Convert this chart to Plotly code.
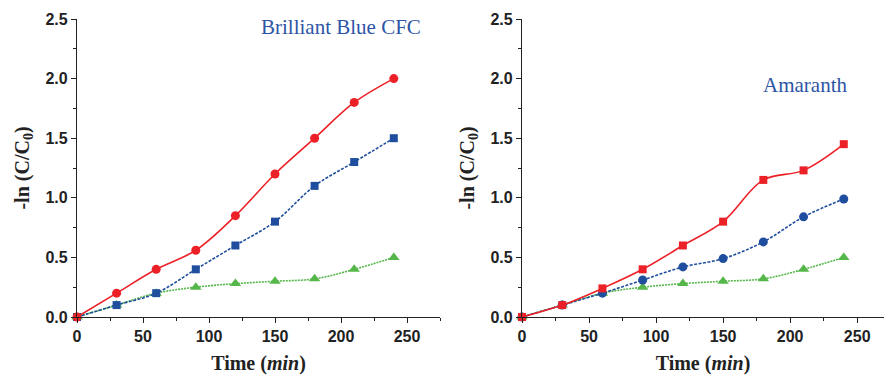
import plotly.graph_objects as go

time = [0, 30, 60, 90, 120, 150, 180, 210, 240]

# Brilliant Blue CFC panel
bb_red = [0, 0.2, 0.4, 0.56, 0.85, 1.2, 1.5, 1.8, 2.0]
bb_blue = [0, 0.1, 0.2, 0.4, 0.6, 0.8, 1.1, 1.3, 1.5]
bb_green = [0, 0.1, 0.2, 0.25, 0.28, 0.3, 0.32, 0.4, 0.5]

# Amaranth panel
am_red = [0, 0.1, 0.24, 0.4, 0.6, 0.8, 1.15, 1.23, 1.45]
am_blue = [0, 0.1, 0.2, 0.31, 0.42, 0.49, 0.63, 0.84, 0.99]
am_green = [0, 0.1, 0.2, 0.25, 0.28, 0.3, 0.32, 0.4, 0.5]

RED = "#ec2127"
BLUE = "#1f4e9f"
GREEN = "#55b74a"
LABEL_BLUE = "#2d55a5"

fig = go.Figure()

def add(x, y, color, symbol, dash, xa, ya, size=8):
    fig.add_trace(go.Scatter(
        x=x, y=y, mode="lines+markers", xaxis=xa, yaxis=ya,
        line=dict(color=color, width=1.6, shape="spline", smoothing=1.0, dash=dash),
        marker=dict(color=color, symbol=symbol, size=size),
        showlegend=False, cliponaxis=False))

add(time, bb_green, GREEN, "triangle-up", "2px,1px", "x", "y", 10)
add(time, bb_blue, BLUE, "square", "3px,1.5px", "x", "y", 8)
add(time, bb_red, RED, "circle", "solid", "x", "y", 9)

add(time, am_green, GREEN, "triangle-up", "2px,1px", "x2", "y2", 10)
add(time, am_blue, BLUE, "circle", "3px,1.5px", "x2", "y2", 9)
add(time, am_red, RED, "square", "solid", "x2", "y2", 8)

tickfont = dict(family="Liberation Sans", size=16, color="#222222", weight="bold")
titlefont = dict(family="Liberation Serif", size=20, color="#222222")

def xaxis(domain, rng):
    return dict(domain=domain, range=rng, showgrid=False, zeroline=False, automargin=False,
                showline=True, linecolor="#222222", linewidth=1.2,
                ticks="outside", ticklen=5, tickcolor="#222222", tickwidth=1.2,
                tick0=0, dtick=50, tickfont=tickfont,
                minor=dict(ticks="outside", ticklen=3, dtick=25, tick0=0, tickcolor="#222222"),
                title=dict(text="<b>Time (<i>min</i>)</b>", font=titlefont, standoff=11))

def yaxis(domain, anchor):
    return dict(domain=domain, range=[0, 2.5], anchor=anchor, showgrid=False, zeroline=False,
                automargin=False,
                showline=True, linecolor="#222222", linewidth=1.2,
                ticks="outside", ticklen=5, tickcolor="#222222", tickwidth=1.2,
                tick0=0, dtick=0.5, tickformat=".1f", tickfont=tickfont,
                minor=dict(ticks="outside", ticklen=3, dtick=0.25, tick0=0, tickcolor="#222222"),
                title=dict(text="<b>-ln (C/C<sub>0</sub>)</b>", font=titlefont, standoff=10))

ydom = [58 / 375, 356 / 375]
fig.update_layout(
    width=885, height=375,
    margin=dict(l=0, r=0, t=0, b=0, autoexpand=False),
    paper_bgcolor="white", plot_bgcolor="white",
    xaxis=dict(xaxis([77 / 885, 440 / 885], [0, 275]), anchor="y"),
    yaxis=yaxis(ydom, "x"),
    xaxis2=dict(xaxis([522 / 885, 884 / 885], [0, 270]), anchor="y2"),
    yaxis2=yaxis(ydom, "x2"),
    annotations=[
        dict(text="Brilliant Blue CFC", x=262, y=2.43, xref="x", yref="y",
             xanchor="right", yanchor="middle", showarrow=False,
             font=dict(family="Liberation Serif", size=21, color=LABEL_BLUE)),
        dict(text="Amaranth", x=244, y=1.95, xref="x2", yref="y2",
             xanchor="right", yanchor="middle", showarrow=False,
             font=dict(family="Liberation Serif", size=21, color=LABEL_BLUE)),
    ],
)

fig.write_html("out.html")
